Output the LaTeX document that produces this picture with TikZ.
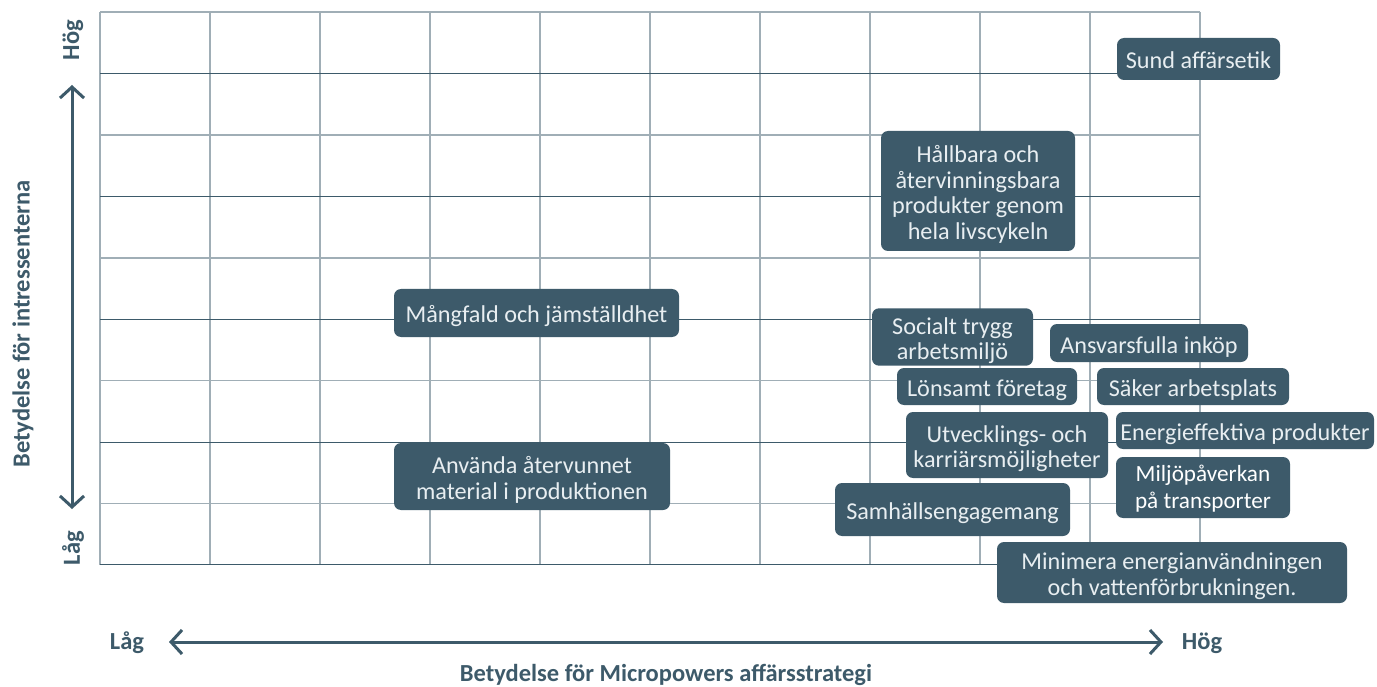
\documentclass[tikz,border=0pt]{standalone}
\usepackage{fontspec}
\setmainfont{Carlito}
\usetikzlibrary{arrows.meta}
\definecolor{dk}{HTML}{3D5A6A}
\definecolor{lt}{HTML}{A0AEB6}
\definecolor{tx}{HTML}{E8EEF1}
\newcommand\tstr[1][26pt]{\rule{0pt}{#1}}
\newcommand\bstr{\rule[-6pt]{0pt}{6pt}}
\begin{document}
\begin{tikzpicture}[x=1pt,y=-1pt,
  box/.style={fill=dk, rounded corners=7pt, text=tx, align=center, inner sep=0pt,
    font=\fontsize{24.2}{25.4}\selectfont},
  axlab/.style={text=dk, inner sep=0pt, font=\bfseries\fontsize{24.5}{28}\selectfont},
  gridlt/.style={draw=lt, line width=1.6pt},
  griddk/.style={draw=dk, line width=1pt},
  axarrow/.style={draw=dk, line width=3pt,
    {Straight Barb[length=11pt,width=24pt]}-{Straight Barb[length=11pt,width=24pt]}}]
\useasboundingbox[fill=white] (0,0) rectangle (1377,687);
% grid
\foreach \i in {0,...,10}
  \draw[gridlt] ({100+110*\i},12) -- ({100+110*\i},565);
\foreach \k in {0,2,4,6,8}
  \draw[gridlt] (100,{12+61.444*\k}) -- (1200,{12+61.444*\k});
\foreach \k in {1,3,5,7,9}
  \draw[griddk] (100,{12+61.444*\k}) -- (1200,{12+61.444*\k});
% axes
\coordinate (vt) at (72,85);
\coordinate (vb) at (72,509);
\coordinate (hl) at (169,642);
\coordinate (hr) at (1163,642);
\draw[axarrow] (vt) -- (vb);
\draw[axarrow] (hl) -- (hr);
\node[axlab, rotate=90] (yhi) at (73,40) {Hög};
\node[axlab, rotate=90] (ylo) at (73,548) {Låg};
\node[axlab, rotate=90] (ytitle) at (23,324) {Betydelse för intressenterna};
\node[axlab] (xlo) at (127,643) {Låg};
\node[axlab] (xhi) at (1202,643) {Hög};
\node[axlab] (xtitle) at (666,675) {Betydelse för Micropowers affärsstrategi};
% boxes
\node[box, minimum width=163pt, minimum height=42pt] (sund) at (1198.5,59) {\tstr Sund affärsetik\bstr};
\node[box, minimum width=194pt, minimum height=120pt] (hall) at (978,191) {\tstr Hållbara och\\återvinningsbara\\produkter genom\\hela livscykeln\bstr};
\node[box, minimum width=285pt, minimum height=48pt] (mang) at (536.5,313) {\tstr Mångfald och jämställdhet\bstr};
\node[box, minimum width=276pt, minimum height=67pt] (anv) at (532,476.5) {\tstr Använda återvunnet\\material i produktionen\bstr};
\node[box, minimum width=161pt, minimum height=56pt] (soc) at (952.5,337) {\tstr Socialt trygg\\arbetsmiljö\bstr};
\node[box, minimum width=198pt, minimum height=38pt] (ansv) at (1149,343) {\tstr Ansvarsfulla inköp\bstr};
\node[box, minimum width=180pt, minimum height=37pt] (lon) at (987,386.5) {\tstr Lönsamt företag\bstr};
\node[box, minimum width=192pt, minimum height=37pt] (saker) at (1193,386.5) {\tstr Säker arbetsplats\bstr};
\node[box, minimum width=202pt, minimum height=66pt] (utv) at (1007,445) {\tstr Utvecklings- och\\karriärsmöjligheter\bstr};
\node[box, minimum width=258pt, minimum height=37pt] (energi) at (1245,430.5) {\tstr Energieffektiva produkter\bstr};
\node[box, minimum width=174pt, minimum height=61pt, text=white, font=\fontsize{23.2}{26.6}\selectfont] (milj) at (1203,487.5) {\tstr[21pt]Miljöpåverkan\\på transporter\bstr};
\node[box, minimum width=235pt, minimum height=53pt] (samh) at (952.5,509.5) {\tstr Samhällsengagemang\bstr};
\node[box, minimum width=350pt, minimum height=61pt] (mini) at (1172,572.5) {\tstr Minimera energianvändningen\\och vattenförbrukningen.\bstr};
\end{tikzpicture}
\end{document}
